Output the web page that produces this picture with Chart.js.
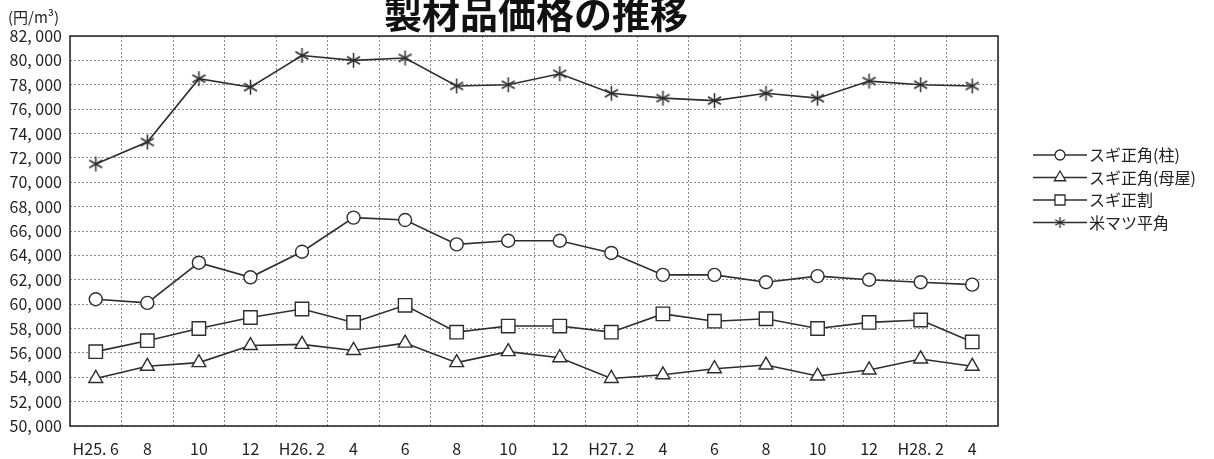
<!DOCTYPE html>
<html>
<head>
<meta charset="utf-8">
<script src="https://cdn.jsdelivr.net/npm/chart.js@4.4.0/dist/chart.umd.min.js"></script>
<style>
  html, body { margin: 0; padding: 0; background: #fff; }
  #wrap { position: relative; width: 1214px; height: 459px; }
</style>
</head>
<body>
<div id="wrap"><canvas id="c" width="1214" height="459"></canvas></div>
<script>
// Monthly price of sawn timber products (yen per cubic metre)
const categories = ['H25. 6','8','10','12','H26. 2','4','6','8','10','12','H27. 2','4','6','8','10','12','H28. 2','4'];
const sugiHashira = [60400,60100,63400,62200,64300,67100,66900,64900,65200,65200,64200,62400,62400,61800,62300,62000,61800,61600];
const sugiMoya    = [53900,54900,55200,56600,56700,56200,56800,55200,56100,55600,53900,54200,54700,55000,54100,54600,55500,54900];
const sugiWari    = [56100,57000,58000,58900,59600,58500,59900,57700,58200,58200,57700,59200,58600,58800,58000,58500,58700,56900];
const beiMatsu    = [71500,73300,78500,77800,80400,80000,80200,77900,78000,78900,77300,76900,76700,77300,76900,78300,78000,77900];
const seriesNames = ['スギ正角(柱)', 'スギ正角(母屋)', 'スギ正割', '米マツ平角'];
const titleText = '製材品価格の推移';
const unitText = '(円/m³)';
const yMin = 50000, yMax = 82000, yStep = 2000;

const INK = '#2e2e2e';
const FONT = '"Noto Sans CJK JP", "Noto Sans", sans-serif';

// six-armed asterisk marker
function makeAsterisk(size, lw) {
  const c = document.createElement('canvas');
  c.width = c.height = size;
  const g = c.getContext('2d');
  g.strokeStyle = INK;
  g.lineWidth = lw;
  const cx = size / 2, r = size / 2 - 1;
  for (let k = 0; k < 3; k++) {
    const a = Math.PI / 2 + k * Math.PI / 3;
    g.beginPath();
    g.moveTo(cx + r * Math.cos(a), cx + r * Math.sin(a));
    g.lineTo(cx - r * Math.cos(a), cx - r * Math.sin(a));
    g.stroke();
  }
  return c;
}
const starBig = makeAsterisk(17, 1.5);
const starSmall = makeAsterisk(13, 1.4);

function fmt(v) {
  const s = String(v);
  return s.slice(0, s.length - 3) + ', ' + s.slice(-3);
}

const styles = [
  { pointStyle: 'circle', radius: 6.5 },
  { pointStyle: 'triangle', radius: 8 },
  { pointStyle: 'rect', radius: 9.5 },
  { pointStyle: starBig, radius: 8 }
];
const seriesData = [sugiHashira, sugiMoya, sugiWari, beiMatsu];

const datasets = seriesData.map((d, i) => ({
  label: seriesNames[i],
  data: d,
  borderColor: INK,
  borderWidth: 1.6,
  pointStyle: styles[i].pointStyle,
  pointRadius: styles[i].radius,
  pointHoverRadius: styles[i].radius,
  pointBackgroundColor: '#fff',
  pointBorderColor: INK,
  pointBorderWidth: 1.4,
  tension: 0,
  fill: false
}));

// frame, title, unit label and legend
const decor = {
  id: 'decor',
  beforeDatasetsDraw(chart) {
    const { ctx, chartArea: a } = chart;
    ctx.save();
    ctx.strokeStyle = INK;
    ctx.lineWidth = 1.6;
    ctx.strokeRect(a.left, a.top, a.right - a.left, a.bottom - a.top);
    ctx.restore();
  },
  afterDraw(chart) {
    const { ctx, chartArea: a } = chart;
    ctx.save();
    ctx.fillStyle = '#111';
    ctx.font = 'bold 38px ' + FONT;
    ctx.textAlign = 'center';
    ctx.textBaseline = 'middle';
    ctx.fillText(titleText, (a.left + a.right) / 2 + 2, 14);

    ctx.fillStyle = '#222';
    ctx.font = '15px ' + FONT;
    ctx.textAlign = 'left';
    ctx.fillText(unitText, 8, 17);

    // legend
    ctx.font = '16px ' + FONT;
    ctx.textBaseline = 'middle';
    const x0 = 1033, x1 = 1087, xm = 1060;
    seriesNames.forEach((name, i) => {
      const y = 155 + i * 22.5;
      ctx.strokeStyle = INK;
      ctx.lineWidth = 1.3;
      ctx.beginPath();
      ctx.moveTo(x0, y);
      ctx.lineTo(x1, y);
      ctx.stroke();
      ctx.fillStyle = '#fff';
      ctx.beginPath();
      if (i === 0) {
        ctx.arc(xm, y, 5, 0, Math.PI * 2);
        ctx.fill(); ctx.stroke();
      } else if (i === 1) {
        const r = 6.5;
        ctx.moveTo(xm, y - r);
        ctx.lineTo(xm + r * 0.866, y + r * 0.5);
        ctx.lineTo(xm - r * 0.866, y + r * 0.5);
        ctx.closePath();
        ctx.fill(); ctx.stroke();
      } else if (i === 2) {
        ctx.rect(xm - 5, y - 5, 10, 10);
        ctx.fill(); ctx.stroke();
      } else {
        ctx.drawImage(starSmall, xm - 6.5, y - 6.5);
      }
      ctx.fillStyle = '#222';
      ctx.fillText(name, 1089, y);
    });
    ctx.restore();
  }
};

new Chart(document.getElementById('c'), {
  type: 'line',
  data: { labels: categories, datasets },
  options: {
    responsive: false,
    animation: false,
    devicePixelRatio: 1,
    layout: { padding: { left: 0, right: 216, top: 36, bottom: 0 } },
    plugins: {
      legend: { display: false },
      title: { display: false },
      tooltip: { enabled: false }
    },
    scales: {
      x: {
        type: 'category',
        offset: true,
        grid: { offset: true, color: '#8c8c8c', lineWidth: 1, drawTicks: false },
        border: { display: false, dash: [2, 2] },
        ticks: {
          autoSkip: false,
          maxRotation: 0,
          padding: 13,
          color: '#222',
          font: { family: FONT, size: 16 }
        },
        afterFit(scale) { scale.height = 33; }
      },
      y: {
        min: yMin,
        max: yMax,
        grid: { color: '#8c8c8c', lineWidth: 1, drawTicks: false },
        border: { display: false, dash: [2, 2] },
        ticks: {
          stepSize: yStep,
          padding: 8,
          color: '#222',
          font: { family: FONT, size: 16 },
          callback: (v) => fmt(v)
        },
        afterFit(scale) { scale.width = 70; }
      }
    }
  },
  plugins: [decor]
});
</script>
</body>
</html>
